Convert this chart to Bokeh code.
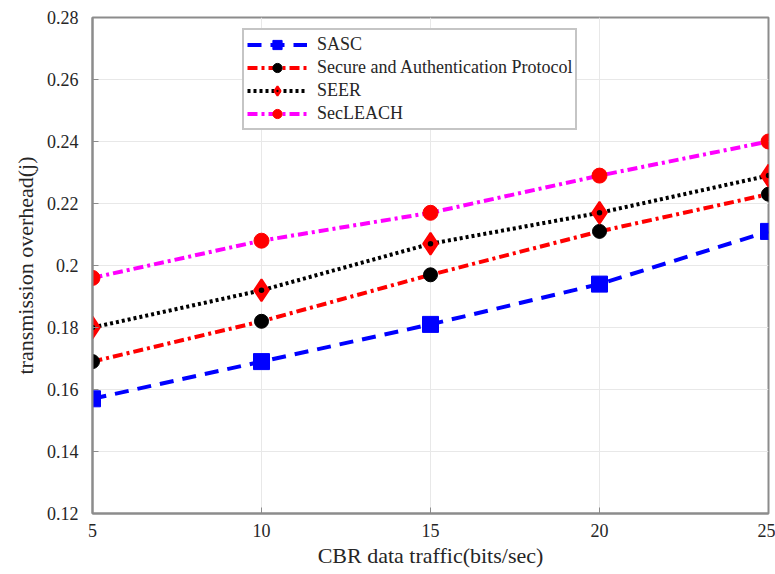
from bokeh.plotting import figure
from bokeh.models import Legend, LegendItem, FixedTicker, Range1d
from bokeh.embed import file_html
from bokeh.resources import INLINE

x_traffic = [5, 10, 15, 20, 25]
sasc = [0.157, 0.169, 0.181, 0.194, 0.211]
secure_auth = [0.169, 0.182, 0.197, 0.211, 0.223]
seer = [0.180, 0.192, 0.207, 0.217, 0.229]
secleach = [0.196, 0.208, 0.217, 0.229, 0.240]
y_ticks = [0.12, 0.14, 0.16, 0.18, 0.2, 0.22, 0.24, 0.26, 0.28]
x_ticks = [5, 10, 15, 20, 25]

FONT = "Liberation Serif"

p = figure(width=775, height=574, output_backend="svg", toolbar_location=None,
           x_range=Range1d(5, 25), y_range=Range1d(0.12, 0.28),
           min_border_left=92, min_border_right=7, min_border_top=17, min_border_bottom=61)

p.xaxis.ticker = FixedTicker(ticks=x_ticks)
p.yaxis.ticker = FixedTicker(ticks=y_ticks)
p.yaxis.major_label_overrides = {0.2: "0.2"}
for ax in (p.xaxis, p.yaxis):
    ax.major_label_text_font = FONT
    ax.major_label_text_font_size = "18px"
    ax.major_label_text_color = "#262626"
    ax.axis_label_text_font = FONT
    ax.axis_label_text_font_size = "22px"
    ax.axis_label_text_font_style = "normal"
    ax.axis_label_text_color = "#262626"
    ax.axis_line_color = "#8c8c8c"
    ax.axis_line_width = 2
    ax.major_tick_in = 6
    ax.major_tick_out = 0
    ax.major_tick_line_color = "#8c8c8c"
    ax.minor_tick_line_color = None
p.xaxis.axis_label = "CBR data traffic(bits/sec)"
p.yaxis.axis_label = "transmission overhead(j)"
p.xaxis.major_label_standoff = 10
p.yaxis.major_label_standoff = 14
p.xaxis.axis_label_standoff = 3
p.yaxis.axis_label_standoff = 6

p.grid.grid_line_color = "#e8e8e8"
p.grid.grid_line_width = 1
p.outline_line_color = "#8c8c8c"
p.outline_line_width = 2
p.background_fill_color = "white"
p.border_fill_color = "white"

# SASC
l1 = p.line(x_traffic, sasc, line_color="blue", line_width=4, line_dash="14 9")
m1 = p.scatter(x_traffic, sasc, marker="square", size=16, fill_color="blue", line_color="blue")

# Secure and Authentication Protocol
l2 = p.line(x_traffic, secure_auth, line_color="red", line_width=4, line_dash="10 4 3 4")
m2 = p.scatter(x_traffic, secure_auth, marker="circle", size=14, fill_color="black", line_color="black")

# SEER
l3 = p.line(x_traffic, seer, line_color="black", line_width=4, line_dash="3 3")
m3 = p.scatter(x_traffic, seer, marker="diamond", size=22, fill_color="red", line_color="red", line_width=2)
d3 = p.scatter(x_traffic, seer, marker="dot", size=22, line_color="black", line_width=1)

# SecLEACH
l4 = p.line(x_traffic, secleach, line_color="magenta", line_width=4, line_dash="10 4 3 4")
m4 = p.scatter(x_traffic, secleach, marker="circle", size=15, fill_color="red", line_color="red")

legend = Legend(items=[
    LegendItem(label="SASC", renderers=[l1, m1]),
    LegendItem(label="Secure and Authentication Protocol", renderers=[l2, m2]),
    LegendItem(label="SEER", renderers=[l3, m3, d3]),
    LegendItem(label="SecLEACH", renderers=[l4, m4]),
], location=(150, 383))
legend.label_text_font = FONT
legend.label_text_font_size = "18px"
legend.label_text_color = "#262626"
legend.label_height = 20
legend.glyph_width = 60
legend.glyph_height = 23
legend.spacing = 0
legend.padding = 3
legend.margin = 0
legend.label_standoff = 10
legend.border_line_color = "#8c8c8c"
legend.border_line_width = 2
legend.background_fill_alpha = 1
p.add_layout(legend, "center")

open("out.html", "w").write(file_html(p, INLINE))
